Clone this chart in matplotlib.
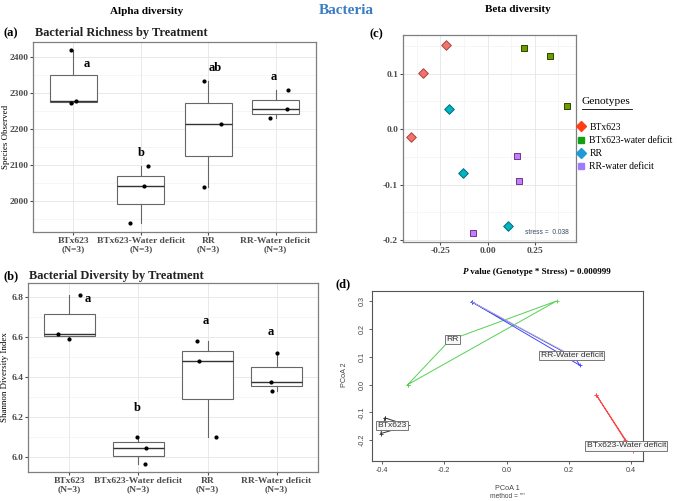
import numpy as np
import matplotlib.pyplot as plt
from matplotlib.lines import Line2D

W, H = 677, 501
SERIF = 'Liberation Serif'
SANS = 'Liberation Sans'
GREY = '#4D4D4D'

# alpha diversity data (3 samples per treatment)
groups = ['BTx623', 'BTx623-Water deficit', 'RR', 'RR-Water deficit']
xlabels = [g + '\n(N=3)' for g in groups]

richness = [[2420, 2278, 2273], [2098, 2041, 1940], [2332, 2214, 2038], [2307, 2254, 2230]]
richness_jit = [[-0.04, 0.04, -0.03], [0.11, 0.05, -0.16], [-0.06, 0.19, -0.06], [0.18, 0.17, -0.09]]
richness_letters = ['a', 'b', 'ab', 'a']
richness_letter_y = [2380, 2133, 2370, 2345]
richness_letter_dx = [0.2, 0.0, 0.1, -0.03]

shannon = [[6.81, 6.615, 6.59], [6.10, 6.045, 5.965], [6.58, 6.48, 6.10], [6.52, 6.375, 6.33]]
shannon_jit = [[0.16, -0.16, -0.01], [-0.02, 0.11, 0.10], [-0.15, -0.13, 0.12], [0.0, -0.08, -0.07]]
shannon_letters = ['a', 'b', 'a', 'a']
shannon_letter_y = [6.787, 6.242, 6.68, 6.625]
shannon_letter_dx = [0.27, -0.02, -0.03, -0.09]

# NMDS (beta diversity)
nmds_groups = ['BTx623', 'BTx623-water deficit', 'RR', 'RR-water deficit']
nmds_x = [[-0.222, -0.344, -0.407], [0.192, 0.330, 0.423], [-0.206, -0.128, 0.110], [0.156, 0.169, -0.075]]
nmds_y = [[0.152, 0.101, -0.014], [0.1465, 0.131, 0.0425], [0.037, -0.080, -0.174], [-0.049, -0.094, -0.188]]
nmds_markers = ['D', 's', 'D', 's']
nmds_fill = ['#F2726C', '#6E9B00', '#00B4C2', '#C77CFF']
nmds_edge = ['#A84540', '#2E4500', '#006E78', '#6A3A8A']
legend_fill = ['#FF3D17', '#11A011', '#1E9BD7', '#A07AFF']
stress = 0.038

# PCoA hulls
pcoa_groups = ['BTx623', 'RR', 'RR-Water deficit', 'BTx623-Water deficit']
pcoa_x = [[-0.39, -0.404, -0.315], [-0.317, -0.182, 0.160], [-0.112, 0.22, 0.235], [0.288, 0.379, 0.406]]
pcoa_y = [[-0.12, -0.176, -0.147], [0.0, 0.160, 0.30], [0.297, 0.095, 0.069], [-0.038, -0.198, -0.240]]
pcoa_label_x = [-0.368, -0.174, 0.209, 0.384]
pcoa_label_y = [-0.147, 0.162, 0.105, -0.220]
pcoa_colors = ['#333333', '#55D055', '#4444FF', '#FF4444']

fig = plt.figure(figsize=(W / 100, H / 100), dpi=100)
fig.patch.set_facecolor('white')


def axes_px(l, t, r, b):
    return fig.add_axes([l / W, 1 - b / H, (r - l) / W, (b - t) / H])


def ftext(x, y, s, **kw):
    return fig.text(x / W, 1 - y / H, s, **kw)


def box_panel(ax, data, jit, letters, ly, ldx, ylim, yt, ymin, width):
    pos = np.arange(1, len(data) + 1)
    ax.boxplot(data, positions=pos, widths=width, showcaps=False, showfliers=False,
               patch_artist=True,
               boxprops=dict(facecolor='white', edgecolor='#666666', lw=0.8),
               medianprops=dict(color='#333333', lw=1.0),
               whiskerprops=dict(color='#666666', lw=0.8), zorder=2)
    for i, (vals, js) in enumerate(zip(data, jit)):
        ax.scatter(pos[i] + np.array(js), vals, s=4, color='black', zorder=3)
        ax.text(pos[i] + ldx[i], ly[i], letters[i], ha='center', va='center',
                fontsize=9, fontweight='bold', family=SERIF)
    ax.set_xlim(0.4, 4.6)
    ax.set_ylim(*ylim)
    ax.set_yticks(yt)
    ax.set_yticks(ymin, minor=True)
    ax.set_xticks(pos)
    ax.set_xticklabels(xlabels, fontsize=6.8, fontweight='bold', family=SERIF,
                       color=GREY, linespacing=1.0)
    for t in ax.get_yticklabels():
        t.set_fontsize(6.8)
        t.set_fontweight('bold')
        t.set_family(SERIF)
        t.set_color(GREY)
    ax.grid(True, which='major', color='#E5E5E5', lw=0.6, zorder=0)
    ax.grid(True, which='minor', axis='y', color='#F0F0F0', lw=0.4, zorder=0)
    ax.tick_params(which='major', length=2, color=GREY, pad=1.5)
    ax.tick_params(which='minor', length=0)
    ax.set_axisbelow(True)
    for sp in ax.spines.values():
        sp.set_color('#7F7F7F')
        sp.set_linewidth(0.9)


# (a) richness
ax_a = axes_px(33, 42, 316, 232)
box_panel(ax_a, richness, richness_jit, richness_letters, richness_letter_y, richness_letter_dx,
          (1914, 2441), [2000, 2100, 2200, 2300, 2400], [1950, 2050, 2150, 2250, 2350], 0.7)
ftext(6, 137, 'Species Observed', ha='center', va='center', rotation=90, fontsize=6.4, family=SERIF)

# (b) shannon
ax_b = axes_px(28, 283, 318, 472)
box_panel(ax_b, shannon, shannon_jit, shannon_letters, shannon_letter_y, shannon_letter_dx,
          (5.923, 6.868), [6.0, 6.2, 6.4, 6.6, 6.8], [6.1, 6.3, 6.5, 6.7], 0.75)
ftext(5, 377, 'Shannon Diversity Index', ha='center', va='center', rotation=90, fontsize=6.4,
      family=SERIF)

# (c) NMDS
ax_c = axes_px(403, 35, 576, 242)
for i in range(len(nmds_groups)):
    ax_c.scatter(nmds_x[i], nmds_y[i], marker=nmds_markers[i], s=24 if nmds_markers[i] == 'D' else 20,
                 facecolor=nmds_fill[i], edgecolor=nmds_edge[i], lw=0.7, zorder=3)
ax_c.set_xlim(-0.448, 0.469)
ax_c.set_ylim(-0.2036, 0.1697)
ax_c.set_xticks([-0.25, 0.0, 0.25])
ax_c.set_xticks([-0.375, -0.125, 0.125, 0.375], minor=True)
ax_c.set_yticks([-0.2, -0.1, 0.0, 0.1])
ax_c.set_yticks([-0.15, -0.05, 0.05, 0.15], minor=True)
ax_c.set_xticklabels(['-0.25', '0.00', '0.25'])
ax_c.set_yticklabels(['-0.2', '-0.1', '0.0', '0.1'])
for t in ax_c.get_xticklabels() + ax_c.get_yticklabels():
    t.set_fontsize(6.8)
    t.set_fontweight('bold')
    t.set_family(SERIF)
    t.set_color(GREY)
ax_c.grid(True, which='major', color='#E5E5E5', lw=0.6)
ax_c.grid(True, which='minor', color='#F0F0F0', lw=0.4)
ax_c.tick_params(which='major', length=2, color=GREY, pad=1.5)
ax_c.tick_params(which='minor', length=0)
ax_c.set_axisbelow(True)
for sp in ax_c.spines.values():
    sp.set_color('#7F7F7F')
    sp.set_linewidth(0.9)
ax_c.text(0.96, 0.03, f'stress =  {stress}', transform=ax_c.transAxes, ha='right', va='bottom',
          fontsize=4.8, family=SANS, color='#3A4A60')

handles = [Line2D([], [], ls='none', marker=m, ms=4.6 if m == 'D' else 4.6,
                  markerfacecolor=c, markeredgecolor=c)
           for m, c in zip(nmds_markers, legend_fill)]
leg = fig.legend(handles, nmds_groups, loc='upper left', bbox_to_anchor=(573 / W, 1 - 119 / H),
                 frameon=False, handlelength=0.8, handletextpad=0.5, labelspacing=0.42,
                 borderaxespad=0, prop=dict(family=SERIF, size=6.9))
ftext(582, 102, 'Genotypes', fontsize=8.2, family=SERIF, va='center', ha='left')
fig.add_artist(Line2D([582 / W, 632 / W], [1 - 109 / H, 1 - 109 / H], color='black', lw=0.6))

# (d) PCoA
ax_d = axes_px(372, 291, 643, 461)
for i in range(len(pcoa_groups)):
    xs = pcoa_x[i] + [pcoa_x[i][0]]
    ys = pcoa_y[i] + [pcoa_y[i][0]]
    ax_d.plot(xs, ys, color=pcoa_colors[i], lw=0.7, marker='+', ms=2.5, mew=0.6)
ax_d.plot([pcoa_x[2][0], pcoa_label_x[2]], [pcoa_y[2][0], pcoa_label_y[2]], color='#BBBBBB', lw=0.6)
for i, g in enumerate(pcoa_groups):
    ax_d.text(pcoa_label_x[i], pcoa_label_y[i], g, ha='center', va='center', fontsize=6.1,
              family=SANS, color='#333333', clip_on=False, zorder=5,
              bbox=dict(boxstyle='square,pad=0.15', facecolor='#F7F7F7', edgecolor='#777777', lw=0.7))
ax_d.set_xlim(-0.432, 0.4375)
ax_d.set_ylim(-0.2745, 0.336)
ax_d.set_xticks([-0.4, -0.2, 0.0, 0.2, 0.4])
ax_d.set_yticks([-0.2, -0.1, 0.0, 0.1, 0.2, 0.3])
ax_d.set_xticklabels(['-0.4', '-0.2', '0.0', '0.2', '0.4'], fontsize=5.2, family=SANS, color='#444444')
ax_d.set_yticklabels(['-0.2', '-0.1', '0.0', '0.1', '0.2', '0.3'], fontsize=5.2, family=SANS,
                     color='#444444', rotation=90, va='center')
ax_d.tick_params(length=2.5, width=0.6, color='#444444', pad=2)
for sp in ax_d.spines.values():
    sp.set_color('#555555')
    sp.set_linewidth(0.8)
ftext(507, 489, 'PCoA 1', ha='center', va='center', fontsize=5.2, family=SANS, color='#444444')
ftext(507, 497, 'method = ""', ha='center', va='center', fontsize=4.8, family=SANS, color='#444444')
ftext(344, 375, 'PCoA 2', ha='center', va='center', rotation=90, fontsize=5.2, family=SANS,
      color='#444444')

# headings
ftext(147, 12, 'Alpha diversity', ha='center', va='center', fontsize=8, fontweight='bold', family=SERIF)
ftext(518, 10, 'Beta diversity', ha='center', va='center', fontsize=8, fontweight='bold', family=SERIF)
ftext(346, 10, 'Bacteria', ha='center', va='center', fontsize=11, fontweight='bold', family=SERIF,
      color='#3A7DC6')
ftext(4, 33, '(a)', ha='left', va='center', fontsize=9, fontweight='bold', family=SERIF)
ftext(35, 33, 'Bacterial Richness by Treatment', ha='left', va='center', fontsize=8.9,
      fontweight='bold', family=SERIF, color='#222222')
ftext(3, 276, '(b)', ha='left', va='center', fontsize=9, fontweight='bold', family=SERIF)
ftext(29, 276, 'Bacterial Diversity by Treatment', ha='left', va='center', fontsize=8.9,
      fontweight='bold', family=SERIF, color='#222222')
ftext(370, 34, '(c)', ha='left', va='center', fontsize=9, fontweight='bold', family=SERIF)
ftext(335, 284, '(d)', ha='left', va='center', fontsize=9, fontweight='bold', family=SERIF)
ftext(463, 272, 'P', ha='left', va='center', fontsize=6.5, fontweight='bold', style='italic', family=SERIF)
ftext(468, 272, ' value (Genotype * Stress) = 0.000999', ha='left', va='center', fontsize=6.5,
      fontweight='bold', family=SERIF)

fig.savefig('out.png', dpi=100, facecolor='white')
